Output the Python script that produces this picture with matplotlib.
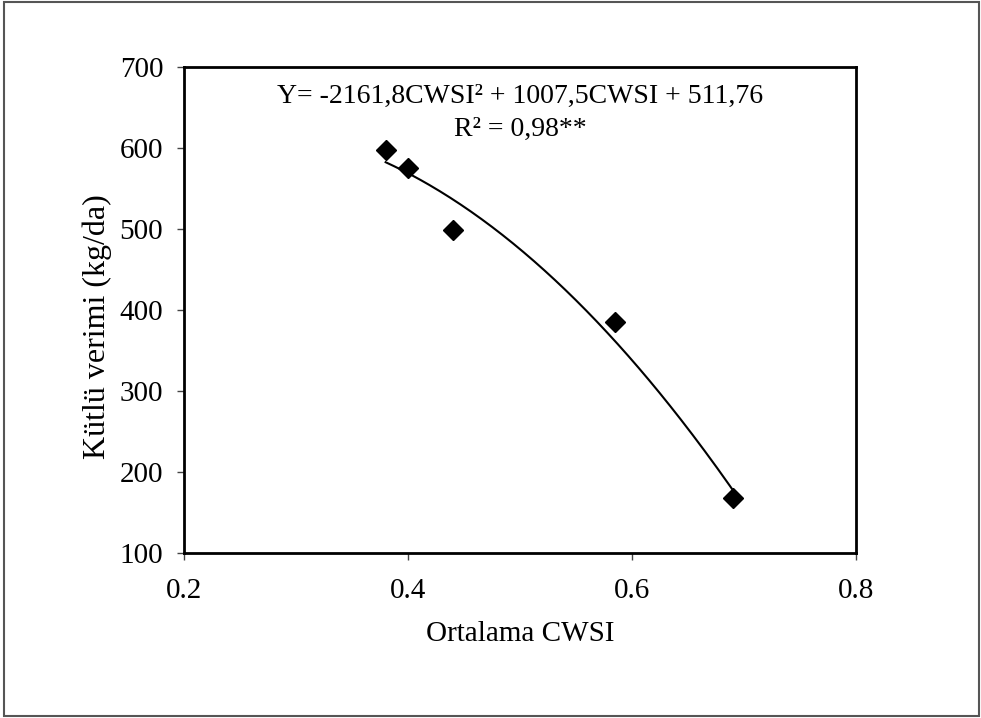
import matplotlib.pyplot as plt
import numpy as np
from matplotlib.patches import Rectangle

plt.rcParams['font.family'] = ['Liberation Serif', 'DejaVu Serif']

# measured points
cwsi = [0.38, 0.40, 0.44, 0.585, 0.69]
yield_kg = [598, 575, 499, 385, 168]

# fitted polynomial shown on the chart
coef = [-2161.8, 1007.5, 511.76]

x_ticks = [0.2, 0.4, 0.6, 0.8]
y_ticks = [100, 200, 300, 400, 500, 600, 700]

fig = plt.figure(figsize=(9.81, 7.18), dpi=100)
ax = fig.add_axes([0.1876, 0.2298, 0.685, 0.6769])

# outer frame around the whole chart
fig.patches.append(Rectangle((0.004, 0.003), 0.994, 0.994, transform=fig.transFigure,
                             fill=False, edgecolor='#555555', linewidth=1.5))

xs = np.linspace(min(cwsi), max(cwsi), 200)
ax.plot(xs, np.polyval(coef, xs), color='black', linewidth=1.5)
ax.plot(cwsi, yield_kg, linestyle='none', marker='D', markersize=10.5,
        color='black')

ax.set_xlim(0.2, 0.8)
ax.set_ylim(100, 700)
ax.set_xticks(x_ticks)
ax.set_xticklabels([str(t) for t in x_ticks])
ax.set_yticks(y_ticks)
ax.tick_params(axis='both', direction='out', length=5, width=1, color='#444444',
               labelsize=21, pad=10)
ax.tick_params(axis='x', pad=13)
for s in ax.spines.values():
    s.set_linewidth(2)

ax.set_xlabel('Ortalama CWSI', fontsize=21, labelpad=12)
ax.set_ylabel('Kütlü verimi (kg/da)', fontsize=23)
ax.yaxis.set_label_coords(-0.107, 0.465)

ax.text(0.5, 0.94, 'Y= -2161,8CWSI² + 1007,5CWSI + 511,76',
        transform=ax.transAxes, ha='center', va='center', fontsize=20)
ax.text(0.5, 0.871, 'R² = 0,98**', transform=ax.transAxes,
        ha='center', va='center', fontsize=20)

fig.savefig('out.png', dpi=100)
